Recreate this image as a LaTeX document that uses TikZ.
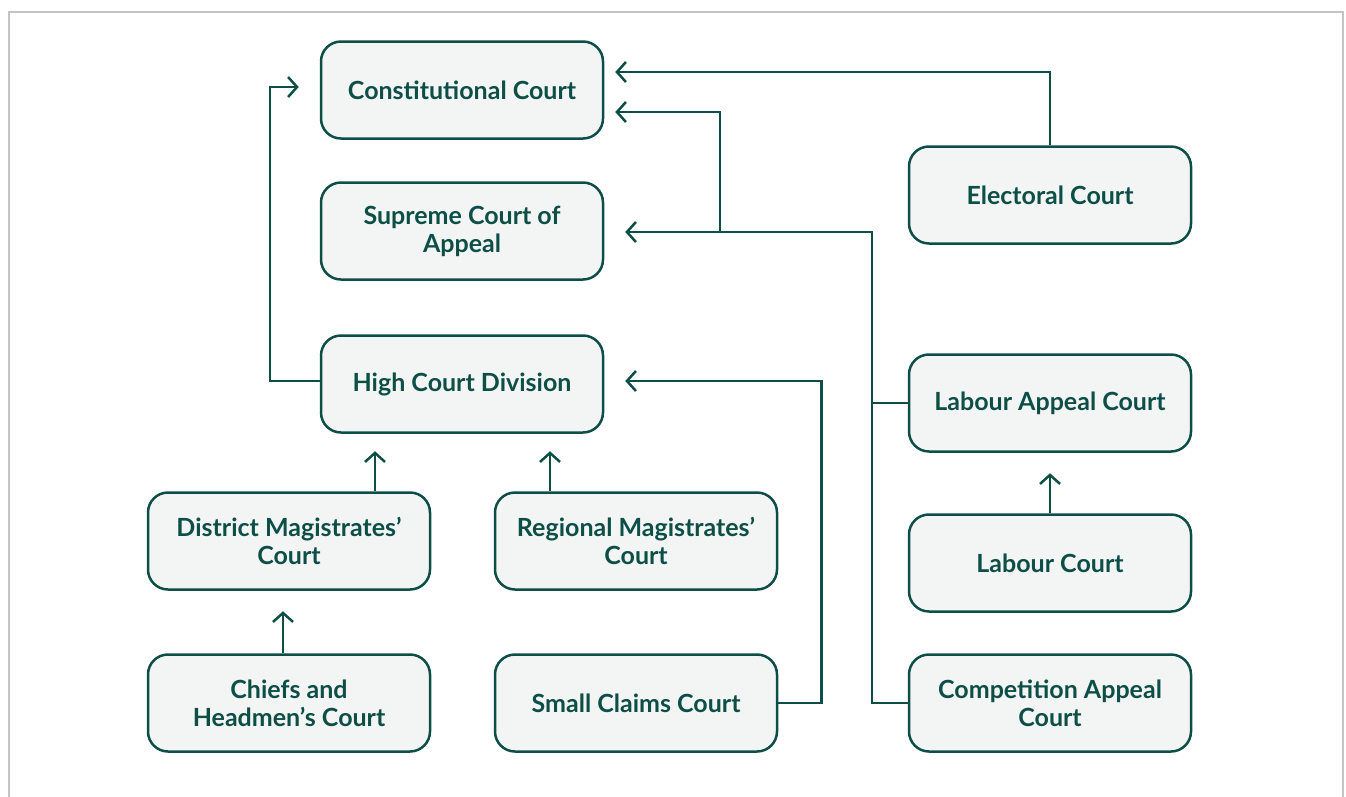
\documentclass[tikz,border=0pt]{standalone}
\usepackage{fontspec}
\setmainfont{Lato}
\usetikzlibrary{arrows.meta,calc}
\definecolor{teal}{HTML}{0D4F47}
\definecolor{boxfill}{HTML}{F3F5F4}
\definecolor{framegray}{HTML}{C4C4C4}
\tikzset{
  court/.style={draw=teal, fill=boxfill, line width=2.5pt, rounded corners=20pt,
    minimum width=282pt, minimum height=97pt, inner sep=0pt, align=center,
    text=teal, font=\fontsize{25}{28}\selectfont\bfseries},
  link/.style={draw=teal, line width=2.5pt},
  arr/.style={link, -{Straight Barb[length=9pt,width=20pt,line width=2.5pt]}},
}
\begin{document}
\begin{tikzpicture}[x=1pt,y=-1pt]
\useasboundingbox (0,0) rectangle (1346,796);
\draw[framegray, line width=2.5pt] (9,820) -- (9,12) -- (1343,12) -- (1343,820);

\node[court] (cc) at (462,90) {Constitutional Court};
\node[court] (sca) at (462,231) {Supreme Court of\\Appeal};
\node[court] (hcd) at (462,384) {High Court Division};
\node[court] (dmc) at (289,541) {District Magistrates’\\Court};
\node[court] (rmc) at (636,541) {Regional Magistrates’\\Court};
\node[court] (chc) at (289,703) {Chiefs and\\Headmen’s Court};
\node[court] (scc) at (636,703) {Small Claims Court};
\node[court] (ec) at (1050,195) {Electoral Court};
\node[court] (lac) at (1050,403) {Labour Appeal Court};
\node[court] (lc) at (1050,563) {Labour Court};
\node[court] (cac) at (1050,703) {Competition Appeal\\Court};

% High Court -> Constitutional Court
\coordinate (hcTip) at ($(cc.west)+(-21,-3)$);
\draw[arr] ($(hcd.west)+(0,-3)$) -- ++(-50,0) |- (hcTip);

% Electoral -> Constitutional
\coordinate (ecTip) at ($(cc.east)+(11,-18)$);
\draw[arr] (ec.north) |- (ecTip);

% Competition / Labour Appeal -> Supreme Court of Appeal and Constitutional
\coordinate (spine) at ($(cac.west)+(-36,0)$);
\coordinate (scaTip) at ($(sca.east)+(21,1)$);
\coordinate (branch) at (720,232);
\coordinate (cc2Tip) at ($(cc.east)+(11,22)$);
\draw[arr] (cac.west) -- (spine) |- (scaTip);
\draw[link] (lac.west) -- (spine |- lac.west);
\draw[arr] (branch) |- (cc2Tip);

% Small Claims -> High Court
\coordinate (hcdTip) at ($(hcd.east)+(21,-3)$);
\draw[arr] (scc.east) -- ++(43,0) |- (hcdTip);

% Upward arrows
\draw[arr] (dmc.north -| 375,0) -- ++(0,-40);
\draw[arr] (rmc.north -| 550,0) -- ++(0,-40);
\draw[arr] (chc.north -| 283,0) -- ++(0,-42);
\draw[arr] (lc.north) -- ++(0,-40);
\end{tikzpicture}
\end{document}
